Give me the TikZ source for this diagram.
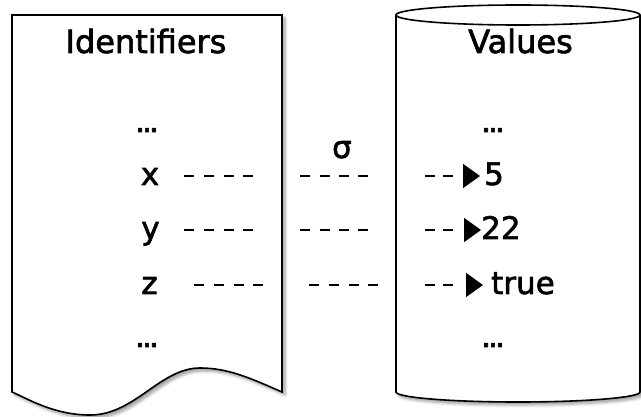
\documentclass[tikz,border=0pt]{standalone}
\usepackage{fontspec}
\setmainfont{DejaVu Sans}[FakeBold=2]
\usetikzlibrary{arrows.meta,shadows.blur}
\begin{document}
\begin{tikzpicture}[x=1pt,y=-1pt,
  docbox/.style={draw=black, line width=1.6pt, fill=white,
    blur shadow={shadow xshift=3pt, shadow yshift=-3pt, shadow blur steps=6,
      shadow blur radius=3pt, shadow opacity=40}},
  head/.style={inner sep=0pt, anchor=base, font=\fontsize{32}{38}\selectfont},
  item/.style={inner sep=0pt, anchor=base, font=\fontsize{31}{37}\selectfont,
    text height=22.6pt, text depth=4.6pt},
  val/.style={item, anchor=base west},
  maps/.style={draw=black, line width=1.8pt,
    -{Triangle[length=17pt,width=24pt]}},
  mapsa/.style={maps,
    dash pattern=on 10pt off 9.67pt on 10pt off 9.67pt on 10pt off 9.67pt on 10pt off 47pt on 10pt off 9.33pt on 10pt off 9.33pt on 10pt off 9.33pt on 10pt off 57pt on 10pt off 8pt on 10pt off 200pt},
  mapsb/.style={maps,
    dash pattern=on 10pt off 9.67pt on 10pt off 9.67pt on 10pt off 9.67pt on 10pt off 46pt on 10pt off 9.67pt on 10pt off 9.67pt on 10pt off 9.67pt on 10pt off 47pt on 10pt off 8pt on 10pt off 200pt}
]
\useasboundingbox (0,0) rectangle (641,417);

% Identifiers document shape
\path[docbox] (12,15) -- (282,15) -- (282,392)
  .. controls (250,378) and (228,368) .. (200,368)
  .. controls (160,368) and (135,415) .. (90,415)
  .. controls (55,415) and (30,400) .. (12,392) -- cycle;

% Values cylinder
\path[docbox] (396,15) -- (396,392)
  arc[start angle=180, end angle=360, x radius=122pt, y radius=10pt]
  -- (640,15)
  arc[start angle=0, end angle=180, x radius=122pt, y radius=10pt] -- cycle;
\draw[line width=1.6pt] (396,15) arc[start angle=180, end angle=360, x radius=122pt, y radius=10pt];

% headings
\node[head] (hid) at (146,53) {Identifiers};
\node[head] (hval) at (520.5,53) {Values};

% identifiers
\node[item] (idtop) at (147,132) {.\kern-3pt.\kern-3pt.};
\node[item] (idx) at (150,185) {x};
\node[item] (idy) at (150.5,239) {y};
\node[item] (idz) at (149.5,294) {z};
\node[item] (idbot) at (147,347) {.\kern-3pt.\kern-3pt.};

% sigma
\node[item] (sigma) at (342,158) {σ};

% values
\node[item] (vtop) at (493,132) {.\kern-3pt.\kern-3pt.};
\node[val] (v5) at (484,185) {5};
\node[val] (v22) at (481,239) {22};
\node[val] (vtrue) at (491,294) {true};
\node[item] (vbot) at (493,347) {.\kern-3pt.\kern-3pt.};

% mappings
\draw[mapsa, shorten <=24.8pt, shorten >=4pt] (idx.east) -- (v5.west);
\draw[mapsa, shorten <=24.5pt, shorten >=0pt] (idy.east) -- (v22.west);
\draw[mapsb, shorten <=36.4pt, shorten >=8pt] (idz.east) -- (vtrue.west);
\end{tikzpicture}
\end{document}
